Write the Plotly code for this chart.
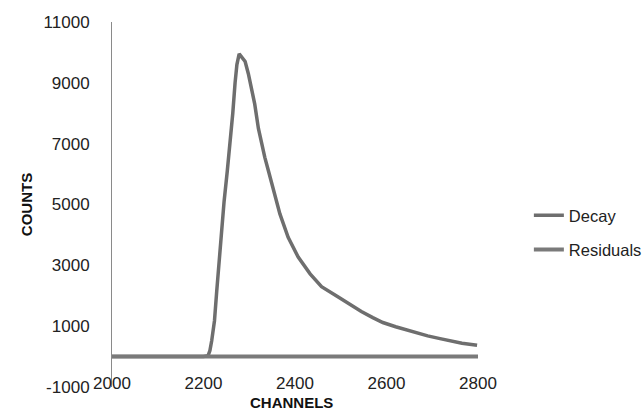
import plotly.graph_objects as go

# Decay curve
decay_channels = [2000, 2100, 2200, 2210, 2214, 2218, 2224, 2229, 2234, 2238, 2245, 2252,
                  2258, 2264, 2269, 2273, 2278, 2284, 2291, 2298, 2305, 2312, 2320, 2327,
                  2334, 2342, 2353, 2367, 2385, 2407, 2433, 2458, 2491, 2502, 2520, 2545,
                  2570, 2592, 2620, 2645, 2667, 2690, 2717, 2739, 2765, 2798]
decay_counts = [0, 0, 0, 30, 200, 530, 1180, 2170, 3160, 3820, 5100, 6100,
                7000, 8000, 9000, 9600, 9950, 9850, 9700, 9300, 8850, 8300, 7500, 7000,
                6550, 6100, 5460, 4690, 3920, 3270, 2720, 2300, 1990, 1880, 1700, 1480,
                1280, 1120, 980, 870, 770, 680, 590, 510, 440, 370]

# Residuals (flat at zero)
residual_channels = [2000, 2200, 2400, 2600, 2800]
residual_values = [0, 0, 0, 0, 0]

x_ticks = [2000, 2200, 2400, 2600, 2800]
y_ticks = [-1000, 1000, 3000, 5000, 7000, 9000, 11000]

FONT = "Liberation Sans, Arial, sans-serif"

fig = go.Figure()
fig.add_trace(go.Scatter(x=decay_channels, y=decay_counts, mode="lines", name="Decay",
                         line=dict(color="#6e6e6e", width=3.5),
                         legendgroup="a"))
fig.add_trace(go.Scatter(x=residual_channels, y=residual_values, mode="lines", name="Residuals",
                         line=dict(color="#7a7a7a", width=4), legendgroup="b"))

fig.update_layout(
    width=644, height=413,
    margin=dict(l=112, r=166, t=22, b=26, autoexpand=False),
    paper_bgcolor="white", plot_bgcolor="white",
    font=dict(family=FONT, size=17, color="#222222"),
    showlegend=True,
    legend=dict(x=1.139, y=0.4235, xanchor="left", yanchor="middle",
                font=dict(family=FONT, size=16.5, color="#222222"),
                tracegroupgap=10, traceorder="grouped", bgcolor="rgba(0,0,0,0)"),
    xaxis=dict(range=[2000, 2800], tickvals=x_ticks, ticktext=[str(v) for v in x_ticks],
               showgrid=False, zeroline=False, showline=False, ticks="",
               ticklabelstandoff=-16, automargin=False,
               tickfont=dict(family=FONT, size=17, color="#222222")),
    yaxis=dict(range=[-1000, 11000], tickvals=y_ticks, ticktext=[str(v) for v in y_ticks],
               showgrid=False, zeroline=True, zerolinecolor="#8a8a8a", zerolinewidth=1,
               showline=True, linecolor="#8a8a8a", linewidth=1, ticks="",
               ticklabelstandoff=18, automargin=False,
               tickfont=dict(family=FONT, size=17, color="#222222"),
               title=dict(text="<b>COUNTS</b>", standoff=7,
                          font=dict(family=FONT, size=15, color="#111111"))),
    annotations=[dict(text="<b>CHANNELS</b>", xref="paper", yref="paper", x=0.49, y=-0.0437,
                      xanchor="center", yanchor="middle", showarrow=False,
                      font=dict(family=FONT, size=15, color="#111111"))],
)

fig.write_html("out.html", config={"displayModeBar": False},
               post_script="document.body.style.margin='0px';document.body.style.overflow='hidden';")
